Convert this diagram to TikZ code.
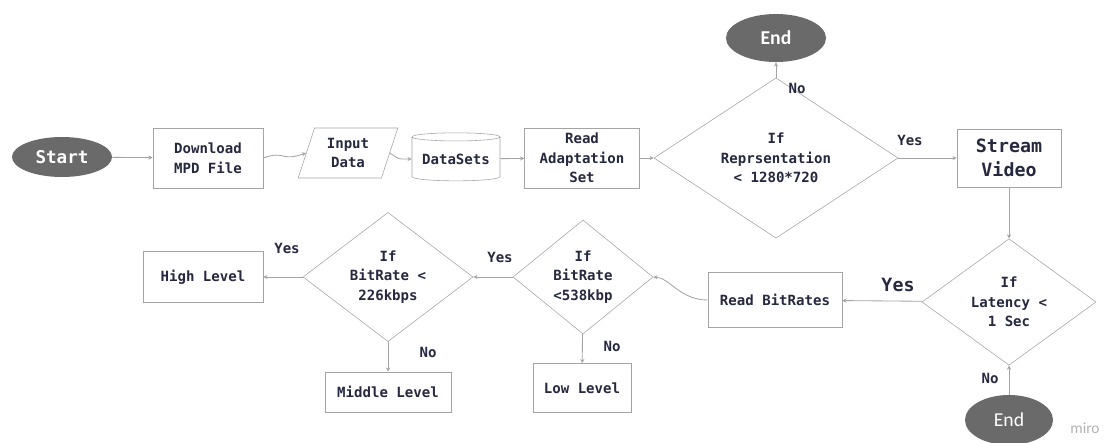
\documentclass[tikz,border=0pt]{standalone}
\usepackage{fontspec}
\usepackage{tikz}
\usetikzlibrary{positioning, arrows.meta, shapes.geometric}
\newfontfamily\boxfont{DejaVu Sans Mono}
\newfontfamily\endfont{Carlito}
\definecolor{inkblue}{HTML}{26283F}
\definecolor{edgegray}{HTML}{A4A4A4}
\definecolor{termgray}{HTML}{6A6A6A}

\begin{document}
\begin{tikzpicture}[x=0.025cm, y=-0.025cm, every node/.style={font=\boxfont\bfseries\fontsize{10}{14}\selectfont, text=inkblue}]
  \tikzstyle{process} = [rectangle, draw=edgegray, fill=white, align=center, inner sep=0pt]
  \tikzstyle{decision} = [diamond, draw=edgegray, fill=white, align=center, inner sep=0pt]
  \tikzstyle{terminal} = [ellipse, fill=termgray, text=white, inner sep=0pt]
  \tikzstyle{arrow} = [draw=edgegray, semithick, -{Stealth[length=3pt,width=3pt]}]
  \tikzstyle{answer} = [inner sep=0pt]

  \useasboundingbox (0,0) rectangle (1107,442);

  % top row
  \node (start) [terminal, minimum width=2.5cm, minimum height=1cm, font=\boxfont\bfseries\fontsize{12.5}{14}\selectfont] at (62,157) {Start};
  \node (mpd) [process, minimum width=2.75cm, minimum height=1.5cm] at (208,158) {Download\\MPD File};
  \node (input) [trapezium, trapezium left angle=71, trapezium right angle=109, trapezium stretches=true, draw=edgegray, align=center, inner sep=0pt, minimum width=2.5cm, minimum height=1.25cm] at (348,153) {Input\\Data};
  \node (data) [cylinder, shape border rotate=90, aspect=0.12, draw=edgegray, inner sep=0pt, minimum width=2.2cm, minimum height=1.2cm] at (456,159) {DataSets};
  \node (adapt) [process, minimum width=2.875cm, minimum height=1.5cm] at (582,158) {Read\\Adaptation\\Set};
  \node (repr) [decision, minimum width=6.1cm, minimum height=3.1cm] at (776,158) {If\\Reprsentation\\< 1280*720};
  \node (endtop) [terminal, minimum width=2.5cm, minimum height=1.2cm, font=\endfont\bfseries\fontsize{14}{16}\selectfont] at (776,38) {End};
  \node (stream) [process, minimum width=2.6cm, minimum height=1.45cm, font=\boxfont\bfseries\fontsize{13}{17}\selectfont] at (1009,158) {Stream\\Video};

  % bottom row
  \node (latency) [decision, minimum width=4.35cm, minimum height=3.15cm] at (1009,302) {If\\Latency <\\1 Sec};
  \node (endbot) [terminal, minimum width=2.2cm, minimum height=1.25cm, font=\endfont\fontsize{14}{16}\selectfont] at (1009,420) {End};
  \node (rates) [process, minimum width=3.35cm, minimum height=1.375cm] at (775,300) {Read BitRates};
  \node (low538) [decision, minimum width=3.5cm, minimum height=2.85cm] at (583,277) {If\\BitRate\\<538kbp};
  \node (low) [process, minimum width=2.45cm, minimum height=1.225cm] at (582,388) {Low Level};
  \node (mid226) [decision, minimum width=4.25cm, minimum height=3.05cm] at (388,277) {If\\BitRate <\\226kbps};
  \node (high) [process, minimum width=3cm, minimum height=1.275cm] at (203,277) {High Level};
  \node (mid) [process, minimum width=3.15cm, minimum height=1cm] at (388,392) {Middle Level};

  \draw [arrow] (start) -- (mpd);
  \draw [arrow] (mpd.east) .. controls (285,150) and (280,162) .. (input.west);
  \draw [arrow] (input.east) .. controls (400,160) and (398,159) .. (data.west);
  \draw [arrow] (data) -- (adapt);
  \draw [arrow] (adapt) -- (repr);
  \draw [arrow] (repr) -- (endtop);
  \draw [arrow] (repr) -- (stream);
  \draw [arrow] (stream) -- (latency);
  \draw [arrow] (endbot) -- (latency);
  \draw [arrow] (latency) -- (rates);
  \draw [arrow] (rates.west) .. controls (680,300) and (670,278) .. (low538.east);
  \draw [arrow] (low538) -- (low);
  \draw [arrow] (low538) -- (mid226);
  \draw [arrow] (mid226) -- (high);
  \draw [arrow] (mid226) -- (mid);

  % answer labels
  \node (nRepr) [answer] at (797,88) {No};
  \node (yRepr) [answer] at (910,140) {Yes};
  \node (yLat) [answer, font=\boxfont\bfseries\fontsize{13}{14}\selectfont] at (898,285) {Yes};
  \node (nLat) [answer] at (990,378) {No};
  \node (y538) [answer] at (500,257) {Yes};
  \node (n538) [answer] at (612,346) {No};
  \node (y226) [answer] at (287,248) {Yes};
  \node (n226) [answer] at (428,352) {No};
  \node (miro) [font=\endfont\fontsize{11}{12}\selectfont, text=black!30] at (1085,428) {miro};
\end{tikzpicture}
\end{document}
